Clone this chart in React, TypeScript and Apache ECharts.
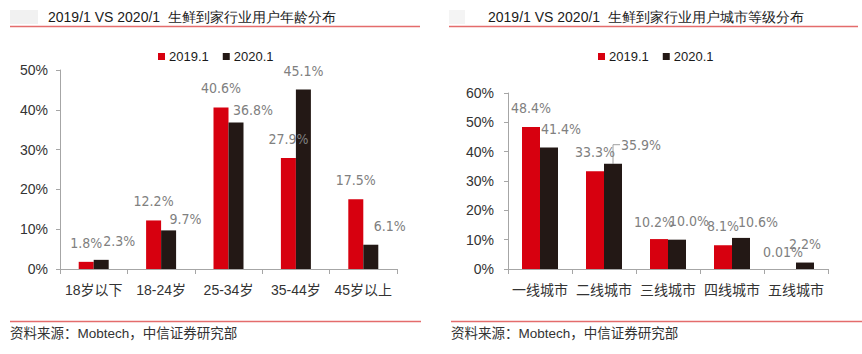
import React, { useEffect, useRef } from "react";
import * as echarts from "echarts";

const ageCategories = ["18岁以下", "18-24岁", "25-34岁", "35-44岁", "45岁以上"];
const age2019 = [1.8, 12.2, 40.6, 27.9, 17.5];
const age2020 = [2.3, 9.7, 36.8, 45.1, 6.1];

const cityCategories = ["一线城市", "二线城市", "三线城市", "四线城市", "五线城市"];
const city2019 = [48.4, 33.3, 10.2, 8.1, 0.01];
const city2020 = [41.4, 35.9, 10.0, 10.6, 2.2];

const seriesNames = ["2019.1", "2020.1"];
const leftTitle = "2019/1 VS 2020/1  生鲜到家行业用户年龄分布";
const rightTitle = "2019/1 VS 2020/1  生鲜到家行业用户城市等级分布";
const sourceText = "资料来源：Mobtech，中信证券研究部";

// label nudges (style only)
const ageOff2019 = [[0, 0], [0, 0], [0, 0], [0, 0], [0, 0]];
const ageOff2020 = [[18, 0], [17, 8], [17, 6], [0, 0], [19, 0]];
const cityOff2019 = [[0, 0], [0, 0], [-5, 2], [0, 0], [-4, 2]];
const cityOff2020 = [[12, 0], [28, 0], [12, 0], [17, 3], [0, 0]];

const RED = "#d7000f";
const BLACK = "#231815";
const LABEL_GRAY = "#808080";
const AXIS_GRAY = "#a6a6a6";
const TEXT = "#333333";
const LINE_RED = "#e46c6c";
const FONT = "'Liberation Sans', Arial, 'Noto Sans CJK SC', sans-serif";
const LABEL_FONT = "'Liberation Sans Narrow', 'Arial Narrow', 'DejaVu Sans Condensed', 'Liberation Sans', sans-serif";

const fmt = (v: number) => (v < 0.1 ? String(v) : v.toFixed(1)) + "%";

function mkData(vals: number[], offs: number[][]) {
  return vals.map((v, i) => ({ value: v, label: { offset: offs[i] } }));
}

function barSeries(name: string, color: string, vals: number[], offs: number[][], gi: number, bw: number) {
  return {
    type: "bar",
    name,
    xAxisIndex: gi,
    yAxisIndex: gi,
    barWidth: bw,
    barGap: "0%",
    itemStyle: { color },
    data: mkData(vals, offs),
    label: {
      show: true,
      position: "top",
      distance: 12,
      color: LABEL_GRAY,
      fontSize: 14,
      fontFamily: LABEL_FONT,
      formatter: (p: any) => fmt(p.value),
    },
  };
}

function xAxis(gi: number, cats: string[]) {
  return {
    type: "category",
    gridIndex: gi,
    data: cats,
    axisLine: { show: true, lineStyle: { color: AXIS_GRAY, width: 1 } },
    axisTick: { show: true, length: 5, lineStyle: { color: AXIS_GRAY } },
    axisLabel: { fontSize: 14, color: TEXT, margin: 14, fontFamily: FONT, interval: 0 },
  };
}

function yAxis(gi: number, max: number, margin: number) {
  return {
    type: "value",
    gridIndex: gi,
    min: 0,
    max,
    interval: 10,
    splitLine: { show: false },
    axisLine: { show: true, lineStyle: { color: AXIS_GRAY, width: 1 } },
    axisTick: { show: true, length: 4, lineStyle: { color: AXIS_GRAY } },
    axisLabel: { fontSize: 14, color: TEXT, margin, fontFamily: FONT, formatter: "{value}%" },
  };
}

function legend(left: number) {
  return {
    left,
    top: 50,
    data: seriesNames,
    icon: "rect",
    itemWidth: 7,
    itemHeight: 7,
    itemGap: 14,
    padding: 0,
    textStyle: { fontSize: 13, color: "#1a1a1a", fontFamily: FONT, padding: [0, 0, 0, -1] },
  };
}

export default function App() {
  const ref = useRef<HTMLDivElement>(null);
  useEffect(() => {
    document.body.style.margin = "0";
    const chart = echarts.init(ref.current!, null, { renderer: "svg" });
    const staticGraphics: any[] = [
      { type: "rect", shape: { x: 10, y: 10, width: 28, height: 14 }, style: { fill: "#f1f1f1" } },
      { type: "rect", shape: { x: 449, y: 10, width: 16, height: 14 }, style: { fill: "#f4f4f4" } },
      { type: "text", x: 48, y: 17, style: { text: leftTitle, fontSize: 14, fill: "#1a1a1a", font: `14px ${FONT}`, verticalAlign: "middle" } },
      { type: "text", x: 488, y: 17, style: { text: rightTitle, fontSize: 14, fill: "#1a1a1a", font: `14px ${FONT}`, verticalAlign: "middle" } },
      { type: "line", shape: { x1: 10, y1: 26.5, x2: 420, y2: 26.5 }, style: { stroke: LINE_RED, lineWidth: 1.5 } },
      { type: "line", shape: { x1: 449, y1: 26.5, x2: 858, y2: 26.5 }, style: { stroke: LINE_RED, lineWidth: 1.5 } },
      { type: "line", shape: { x1: 10, y1: 321.5, x2: 421, y2: 321.5 }, style: { stroke: LINE_RED, lineWidth: 1.5 } },
      { type: "line", shape: { x1: 451, y1: 321.5, x2: 862, y2: 321.5 }, style: { stroke: LINE_RED, lineWidth: 1.5 } },
      { type: "text", x: 10, y: 333, style: { text: sourceText, fill: TEXT, font: `13.5px ${FONT}`, verticalAlign: "middle" } },
      { type: "text", x: 451, y: 333, style: { text: sourceText, fill: TEXT, font: `13.5px ${FONT}`, verticalAlign: "middle" } },
    ];
    chart.setOption({
      animation: false,
      backgroundColor: "#ffffff",
      grid: [
        { left: 60, right: 465, top: 70, bottom: 85 },
        { left: 508, right: 34, top: 93, bottom: 85 },
      ],
      legend: [legend(158), legend(598)],
      xAxis: [xAxis(0, ageCategories), xAxis(1, cityCategories)],
      yAxis: [yAxis(0, 50, 12), yAxis(1, 60, 14)],
      series: [
        barSeries(seriesNames[0], RED, age2019, ageOff2019, 0, 15),
        barSeries(seriesNames[1], BLACK, age2020, ageOff2020, 0, 15),
        barSeries(seriesNames[0], RED, city2019, cityOff2019, 1, 18),
        barSeries(seriesNames[1], BLACK, city2020, cityOff2020, 1, 18),
      ],
      graphic: staticGraphics,
    });
    // leader line for the 35.9% label (二线城市, 2020.1)
    const p = chart.convertToPixel({ xAxisIndex: 1, yAxisIndex: 1 } as any, [1, city2020[1]]) as number[];
    if (p) {
      const bx = p[0] + 9;
      const by = p[1];
      const ly = by - 19;
      chart.setOption({
        graphic: [
          ...staticGraphics,
          {
            type: "polyline",
            shape: { points: [[bx, by], [bx, ly], [bx + 7, ly]] },
            style: { stroke: "#a0a0a0", lineWidth: 1, fill: null },
          },
        ],
      });
    }
    return () => chart.dispose();
  }, []);
  return <div ref={ref} style={{ width: 862, height: 354 }} />;
}
